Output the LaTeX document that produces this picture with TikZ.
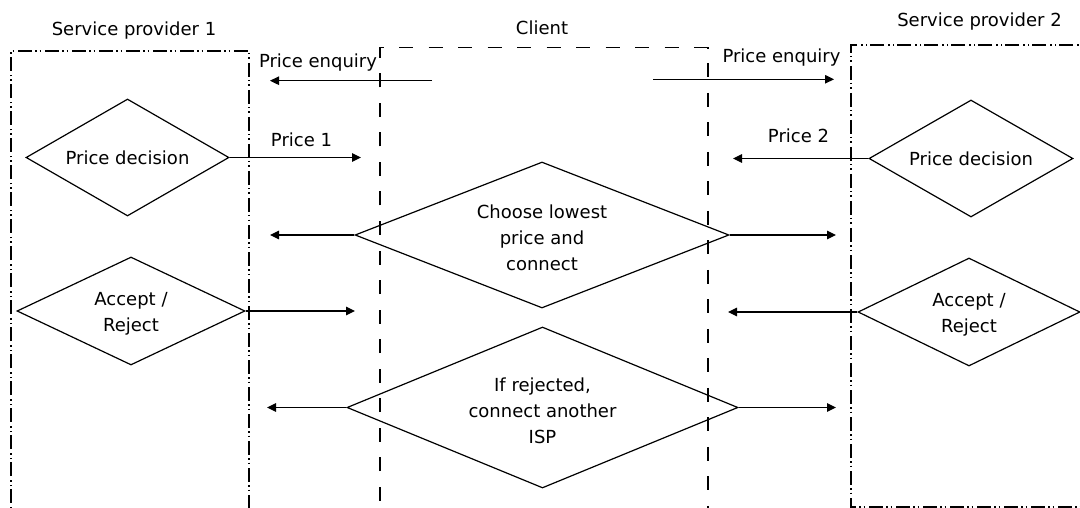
\documentclass[tikz,border=0pt]{standalone}
\usepackage{fontspec}
\setmainfont{DejaVu Sans}
\usetikzlibrary{shapes.geometric,arrows.meta}
\newcommand\mylinestrut{\rule{0pt}{19.5pt}}
\begin{document}
\begin{tikzpicture}[x=1pt,y=-1pt,
  every node/.style={font=\fontsize{18}{26}\selectfont, inner sep=0pt, text=black},
  dec/.style={draw=black, diamond, line width=1.2pt, align=center},
  spline/.style={line width=1.2pt, dash pattern=on 14pt off 3pt on 1.5pt off 3pt on 1.5pt off 4pt},
  clline/.style={line width=1.2pt, dash pattern=on 14pt off 15.5pt},
  msg/.style={line width=1.2pt, -{Triangle[length=9pt,width=8.5pt]}},
  lbl/.style={anchor=base}]
\useasboundingbox (0,0) rectangle (1080,508);
\clip (0,0) rectangle (1080,508);

% lanes
\draw[spline] (11,530) -- (11,51) -- (249,51) -- (249,530);
\draw[clline] (380,530) -- (380,47.7) -- (708,47.7) -- (708,530);
\draw[spline] (1100,45) -- (851,45) -- (851,507) -- (1100,507);

% titles
\node[lbl] (t1) at (134,36) {Service provider 1};
\node[lbl] (t2) at (542,35) {Client};
\node[lbl] (t3) at (979.5,27) {Service provider 2};

% decisions
\node[dec, minimum width=203pt, minimum height=117pt, shape aspect=1.735] (pd1) at (127.5,157.5) {Price decision};
\node[dec, minimum width=204pt, minimum height=117pt, shape aspect=1.74] (pd2) at (971,158.5) {Price decision};
\node[dec, minimum width=374pt, minimum height=146pt, shape aspect=2.56] (choose) at (542,235) {\mylinestrut Choose lowest\\price and\\connect};
\node[dec, minimum width=228pt, minimum height=108pt, shape aspect=2.11] (ar1) at (131,311) {\mylinestrut Accept /\\Reject};
\node[dec, minimum width=222pt, minimum height=108pt, shape aspect=2.06] (ar2) at (969,312) {\mylinestrut Accept /\\Reject};
\node[dec, minimum width=391pt, minimum height=161pt, shape aspect=2.43] (rej) at (542.5,407.5) {\mylinestrut If rejected,\\connect another\\ISP};

% free ends
\coordinate (pe1s) at (432,80.7);
\coordinate (pe1e) at (270,80.7);
\coordinate (pe2s) at (653,79.3);
\coordinate (pe2e) at (834,79.3);
\coordinate (p1e) at (361,157.5);
\coordinate (p2e) at (733,158.5);
\coordinate (c1e) at (270,235);
\coordinate (c2e) at (836,235);
\coordinate (a1e) at (355,311);
\coordinate (a2e) at (728,312);
\coordinate (r1e) at (267,407.5);
\coordinate (r2e) at (836,407.5);

% messages
\draw[msg] (pe1s) -- (pe1e);
\draw[msg] (pe2s) -- (pe2e);
\draw[msg] (pd1.east) -- (p1e);
\draw[msg] (pd2.west) -- (p2e);
\draw[msg] (choose.west) -- (c1e);
\draw[msg] (choose.east) -- (c2e);
\draw[msg] (ar1.east) -- (a1e);
\draw[msg] (ar2.west) -- (a2e);
\draw[msg] (rej.west) -- (r1e);
\draw[msg] (rej.east) -- (r2e);

% labels
\node[lbl] (pe1l) at (318,68) {Price enquiry};
\node[lbl] (pe2l) at (781.5,63) {Price enquiry};
\node[lbl] (p1l) at (301.5,147) {Price 1};
\node[lbl] (p2l) at (798.5,143) {Price 2};
\end{tikzpicture}
\end{document}
